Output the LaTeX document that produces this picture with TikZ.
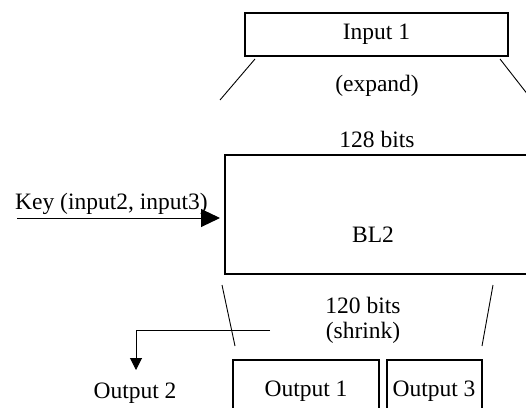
\documentclass[tikz,border=0pt]{standalone}
\usepackage{fontspec}
\setmainfont{Liberation Serif}
\usetikzlibrary{arrows.meta}
\begin{document}
\begin{tikzpicture}[x=1pt,y=-1pt,
  every node/.style={font=\fontsize{23.5}{27}\selectfont, inner sep=0pt},
  blockbox/.style={draw, line width=2pt, rectangle},
  thin line/.style={line width=0.9pt},
  arrowline/.style={line width=1pt}]
  \useasboundingbox (0,0) rectangle (526,407);
  \clip (0,0) rectangle (526,407);

  % boxes
  \path[blockbox] (245,13) rectangle (508,56);
  \node (in1) at (376.5,34) {Input 1};
  \path[blockbox] (225,154.5) rectangle (580,274);
  \node (bl2) at (373,235) {BL2};
  \path[blockbox] (233,360) rectangle (379,430);
  \node (out1) at (306,391) {Output 1};
  \path[blockbox] (387,360) rectangle (482,430);
  \node (out3) at (434,391) {Output 3};

  % texts
  \node (expand) at (377,86) {(expand)};
  \node (bits128) at (377,139) {128 bits};
  \node (bits120) at (363,305) {120 bits};
  \node (shrink) at (363,333) {(shrink)};
  \node[anchor=base west] (key) at (15,209) {Key (input2, input3)};
  \node (out2) at (135,393) {Output 2};

  % expansion and shrink guide lines
  \coordinate (ea) at (255,59);
  \coordinate (eb) at (220,100);
  \coordinate (ec) at (500,59);
  \coordinate (ed) at (532,100);
  \draw[thin line] (ea) -- (eb);
  \draw[thin line] (ec) -- (ed);
  \coordinate (sa) at (222,285);
  \coordinate (sb) at (235,346);
  \coordinate (sc) at (493,285);
  \coordinate (sd) at (482,346);
  \draw[thin line] (sa) -- (sb);
  \draw[thin line] (sc) -- (sd);

  % key input arrow
  \coordinate (keystart) at (17,218);
  \coordinate (keyend) at (220,218);
  \draw[arrowline, -{Triangle[length=19pt,width=18pt]}] (keystart) -- (keyend);

  % output 2 branch
  \coordinate (o2start) at (270,330);
  \coordinate (o2corner) at (136,330);
  \coordinate (o2end) at (136,370);
  \draw[arrowline, -{Triangle[length=12pt,width=12pt]}] (o2start) -- (o2corner) -- (o2end);
\end{tikzpicture}
\end{document}
